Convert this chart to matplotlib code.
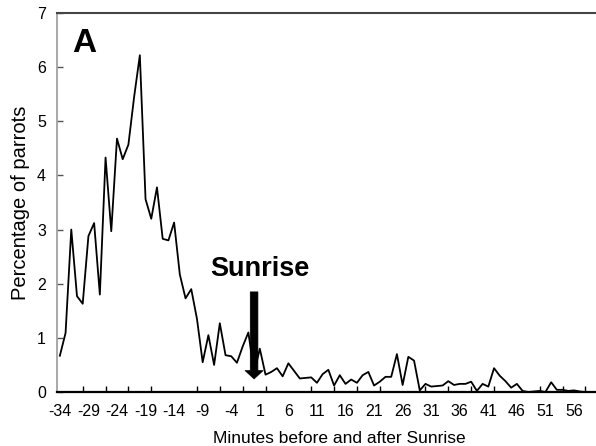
import matplotlib
matplotlib.use("Agg")
import matplotlib.pyplot as plt
import numpy as np

plt.rcParams['font.family'] = ['Liberation Sans', 'DejaVu Sans']

minutes = list(range(-34, 60))
percent = [
    0.67, 1.09, 3.00, 1.77, 1.63, 2.88, 3.12, 1.80, 4.33, 2.97,
    4.68, 4.30, 4.57, 5.45, 6.22, 3.56, 3.20, 3.78, 2.83, 2.80,
    3.13, 2.17, 1.73, 1.90, 1.35, 0.55, 1.05, 0.50, 1.27, 0.68,
    0.66, 0.54, 0.84, 1.10, 0.35, 0.80, 0.32, 0.37, 0.44, 0.29,
    0.53, 0.39, 0.25, 0.26, 0.27, 0.17, 0.33, 0.41, 0.12, 0.31,
    0.15, 0.23, 0.17, 0.31, 0.37, 0.12, 0.19, 0.28, 0.28, 0.70,
    0.13, 0.65, 0.58, 0.03, 0.15, 0.10, 0.11, 0.12, 0.20, 0.13,
    0.15, 0.15, 0.19, 0.02, 0.15, 0.10, 0.44, 0.30, 0.20, 0.08,
    0.15, 0.02, 0.00, 0.01, 0.02, 0.00, 0.18, 0.04, 0.04, 0.02,
    0.03, 0.01, 0.00, 0.00,
]
xtick_labels = list(range(-34, 57, 5))
ytick_labels = list(range(0, 8))

fig = plt.figure(figsize=(5.96, 4.46), dpi=100)
# the original axes run past the right edge of the picture
ax = fig.add_axes([57/596, 54/446, (622-57)/596, (392-13)/446])

ax.plot(minutes, percent, color='black', lw=1.3)

ax.set_xlim(-34.5, 64.4)
ax.set_ylim(0, 7)

ax.set_xticks(xtick_labels)
ax.set_xticklabels([str(v) for v in xtick_labels], fontsize=11.5)
ax.set_xticks(np.arange(-34, 63, 4), minor=True)
ax.tick_params(axis='x', which='major', length=0, pad=9)
ax.tick_params(axis='x', which='minor', direction='in', length=4, width=1, color='black')

ax.set_yticks(ytick_labels)
ax.set_yticklabels([str(v) for v in ytick_labels], fontsize=11.5)
ax.tick_params(axis='y', which='major', direction='in', length=4, width=1, color='#555555', pad=8)

ax.spines['right'].set_visible(False)
ax.spines['top'].set_color('#444444')
ax.spines['top'].set_linewidth(1.5)
ax.spines['left'].set_color('#999999')
ax.spines['left'].set_linewidth(1.2)
ax.spines['bottom'].set_color('black')
ax.spines['bottom'].set_linewidth(1.6)

ax.set_xlabel('Minutes before and after Sunrise', fontsize=12.5, labelpad=8)
ax.set_ylabel('Percentage of parrots', fontsize=14.5, labelpad=5)

ax.text(72/596, (446-43)/446, 'A', transform=fig.transFigure, fontsize=24,
        fontweight='bold', ha='left', va='center')

ax.annotate('', xy=(0, 0.19), xytext=(0, 1.9),
            arrowprops=dict(arrowstyle='simple,head_width=1.3,head_length=0.6,tail_width=0.55',
                            color='black', lw=0.5))
ax.text(1.0, 2.28, 'Sunrise', fontsize=19.5, fontweight='bold', ha='center', va='center')

fig.savefig('out.png', dpi=100)
